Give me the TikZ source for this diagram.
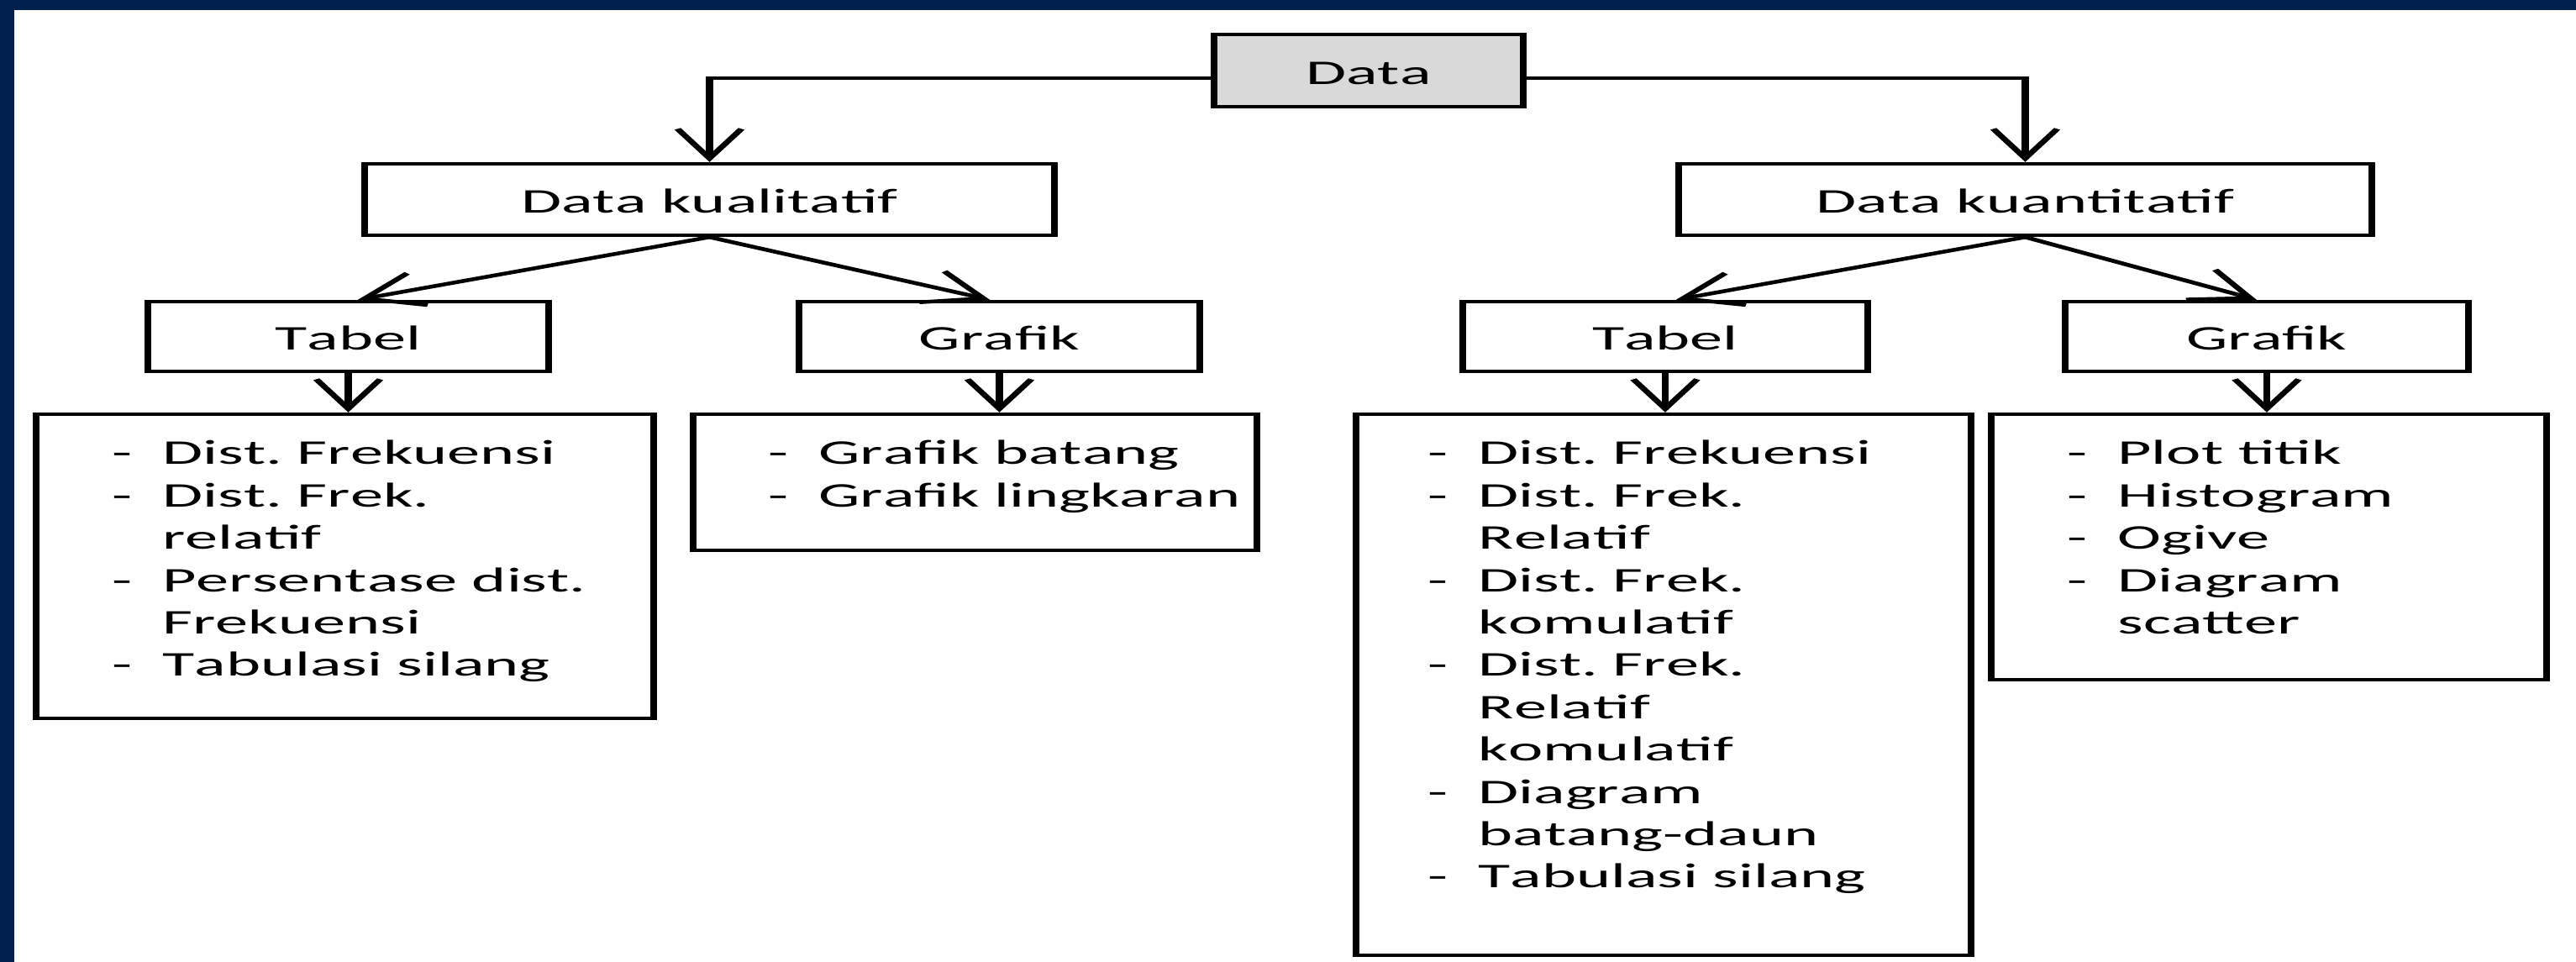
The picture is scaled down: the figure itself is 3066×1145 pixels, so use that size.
\documentclass[tikz,border=0pt]{standalone}
\usepackage{fontspec}
\setmainfont{Carlito}[Kerning=Off]
\usetikzlibrary{arrows.meta,fit}
\definecolor{navyband}{RGB}{0,32,76}
\definecolor{boxgray}{RGB}{217,217,217}
\newcommand\dashitem{\makebox[7.9pt][l]{-}}
\def\ux{0.131579pt}
\def\uy{0.25pt}
\begin{document}
\begin{tikzpicture}[x=0.25pt,y=-0.25pt]
\useasboundingbox (0,0) rectangle (3066,1145);
\fill[white] (0,0) rectangle (3066,1145);
\fill[navyband] (0,0) rectangle (3066,12);
\fill[navyband] (0,0) rectangle (17,1145);
\begin{scope}[transform canvas={xscale=1.9}, x=0.131579pt, y=-0.25pt,
  every node/.style={font=\fontsize{10.3}{12.6}\selectfont\frenchspacing, text=black},
  box/.style={draw=black, line width=1.1pt, inner sep=0pt, rectangle},
  title/.style={box, text height=0.82em, text depth=0pt, anchor=center},
  arr/.style={draw=black, line width=1.1pt, -{Straight Barb[length=8.75pt,width=10pt]}},
  list/.style={anchor=base west, inner sep=0pt, align=left}]

% title boxes
\node[title, fill=boxgray, minimum width=368*\ux, minimum height=86*\uy] (data) at (1629,84) {Data};
\node[title, minimum width=821*\ux, minimum height=85*\uy] (kual) at (844.5,237.5) {Data kualitatif};
\node[title, minimum width=825*\ux, minimum height=85*\uy] (kuan) at (2410.5,237.5) {Data kuantitatif};
\node[title, minimum width=477*\ux, minimum height=83*\uy] (tabl) at (414.5,400.5) {Tabel};
\node[title, minimum width=477*\ux, minimum height=83*\uy] (grfl) at (1189.5,400.5) {Grafik};
\node[title, minimum width=482*\ux, minimum height=83*\uy] (tabr) at (1982,400.5) {Tabel};
\node[title, minimum width=480*\ux, minimum height=83*\uy] (grfr) at (2698,400.5) {Grafik};

% list boxes
\node[box, fit={(43,493) (778,855)}] (l1) {};
\node[box, fit={(825,493) (1496,655)}] (l2) {};
\node[box, fit={(1614,493) (2346,1137)}] (r1) {};
\node[box, fit={(2370,493) (3031,809)}] (r2) {};

% list texts
\node[list] (l1t) at (132,553) {\begin{tabular}[t]{@{}l@{}l@{}}
\dashitem & Dist. Frekuensi\\
\dashitem & Dist. Frek.\\
 & relatif\\
\dashitem & Persentase dist.\\
 & Frekuensi\\
\dashitem & Tabulasi silang
\end{tabular}};
\node[list] (l2t) at (913,553) {\begin{tabular}[t]{@{}l@{}l@{}}
\dashitem & Grafik batang\\
\dashitem & Grafik lingkaran
\end{tabular}};
\node[list] (r1t) at (1698,553) {\begin{tabular}[t]{@{}l@{}l@{}}
\dashitem & Dist. Frekuensi\\
\dashitem & Dist. Frek.\\
 & Relatif\\
\dashitem & Dist. Frek.\\
 & komulatif\\
\dashitem & Dist. Frek.\\
 & Relatif\\
 & komulatif\\
\dashitem & Diagram\\
 & batang-daun\\
\dashitem & Tabulasi silang
\end{tabular}};
\node[list] (r2t) at (2459,553) {\begin{tabular}[t]{@{}l@{}l@{}}
\dashitem & Plot titik\\
\dashitem & Histogram\\
\dashitem & Ogive\\
\dashitem & Diagram\\
 & scatter
\end{tabular}};

% connectors
\draw[arr] ([yshift=-2.25pt]data.west) -| (kual.north);
\draw[arr] ([yshift=-2.25pt]data.east) -| (kuan.north);
\draw[arr] (kual.south) -- ([xshift=1.5pt]tabl.north);
\draw[arr] (kual.south) -- ([xshift=-1.5pt]grfl.north);
\draw[arr] (kuan.south) -- ([xshift=1.7pt]tabr.north);
\draw[arr] (kuan.south) -- ([xshift=-1.6pt]grfr.north);
\draw[arr] (tabl.south) -- (tabl.south |- l1.north);
\draw[arr] (grfl.south) -- (grfl.south |- l2.north);
\draw[arr] (tabr.south) -- (tabr.south |- r1.north);
\draw[arr] (grfr.south) -- (grfr.south |- r2.north);
\end{scope}
\end{tikzpicture}
\end{document}
